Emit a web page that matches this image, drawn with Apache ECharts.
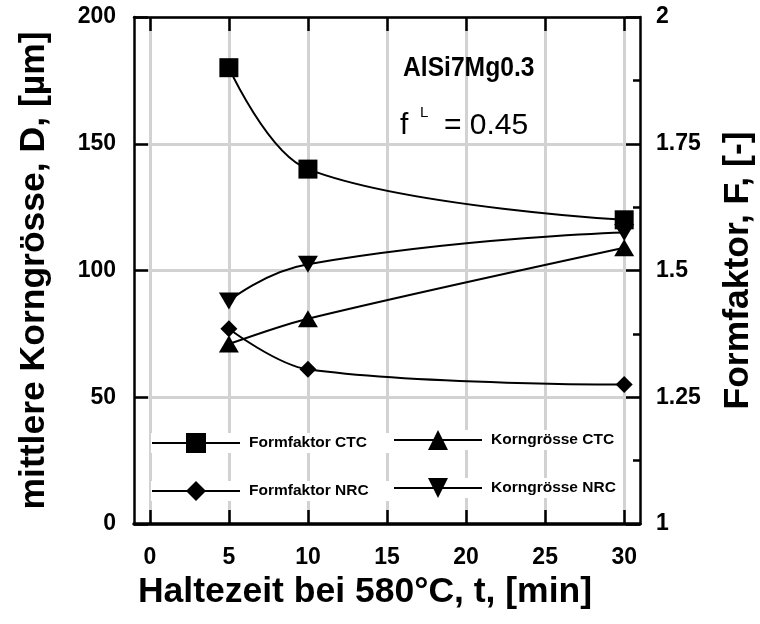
<!DOCTYPE html>
<html>
<head>
<meta charset="utf-8">
<script src="https://cdn.jsdelivr.net/npm/echarts@6/dist/echarts.min.js"></script>
<style>
  html, body { margin: 0; padding: 0; background: #fff; }
  #chart { width: 760px; height: 624px; }
</style>
</head>
<body>
<div id="chart"></div>
<script>
// Haltezeit (min) and measured values
const haltezeit = [5, 10, 30];
const formfaktorCTC = [1.9, 1.7, 1.6];
const formfaktorNRC = [1.385, 1.305, 1.275];
const korngroesseCTC = [71, 81, 109];
const korngroesseNRC = [88, 102.5, 115];

// axis ticks
const zeitTicks = [0, 5, 10, 15, 20, 25, 30];
const dTicks = [0, 50, 100, 150, 200];
const fTicks = [1, 1.25, 1.5, 1.75, 2];

const FONT = '"Liberation Sans", Arial, Helvetica, sans-serif';
const GRID = { left: 134, right: 120, top: 17, bottom: 100, containLabel: false, outerBoundsMode: 'none' };
const downTriangle = 'path://M0,0L20,0L10,17Z';

function pairs(values) {
  return haltezeit.map((t, i) => [t, values[i]]);
}

const axisLineStyle = { color: '#000', width: 2.5 };
const tickStyle = { color: '#000', width: 2.5 };
const gridLineStyle = { color: '#d2d2d2', width: 3 };
const nameStyle = { fontFamily: FONT, fontWeight: 'bold', fontSize: 35.5, color: '#000' };
const tickLabelStyle = { fontFamily: FONT, fontWeight: 'bold', fontSize: 23, color: '#000' };

function lineSeries(name, values, yAxisIndex, symbol, symbolSize, smooth) {
  return {
    name: name,
    type: 'line',
    xAxisIndex: 0,
    yAxisIndex: yAxisIndex,
    data: pairs(values),
    smooth: smooth,
    symbol: symbol,
    symbolSize: symbolSize,
    showAllSymbol: true,
    lineStyle: { color: '#000', width: 2 },
    itemStyle: { color: '#000', borderWidth: 0 },
    emphasis: { disabled: true },
    animation: false,
    z: 3
  };
}

function legendRow(names, left, top, padRight) {
  return {
    data: names,
    left: left,
    top: top,
    orient: 'horizontal',
    itemWidth: 88,
    itemHeight: 25,
    itemGap: 0,
    padding: [0, padRight, 0, 0],
    backgroundColor: '#fff',
    selectedMode: false,
    textStyle: {
      fontFamily: FONT,
      fontWeight: 'bold',
      fontSize: 15.5,
      color: '#000',
      padding: [0, 0, 0, 4]
    }
  };
}

const chart = echarts.init(document.getElementById('chart'), null, { renderer: 'canvas' });

chart.setOption({
  backgroundColor: '#fff',
  animation: false,
  grid: GRID,
  xAxis: [
    {
      type: 'value',
      position: 'bottom',
      min: -1,
      max: 31,
      name: 'Haltezeit bei 580°C, t, [min]',
      nameLocation: 'middle',
      nameGap: 42,
      nameTextStyle: Object.assign({ padding: [0, 44, 0, 0] }, nameStyle),
      axisLine: { show: true, onZero: false, lineStyle: { color: '#000', width: 3.5 } },
      axisTick: { show: true, inside: true, length: 14, customValues: zeitTicks, lineStyle: tickStyle },
      axisLabel: Object.assign({ customValues: zeitTicks, margin: 22 }, tickLabelStyle),
      splitLine: { show: true, lineStyle: gridLineStyle }
    },
    {
      type: 'value',
      position: 'top',
      min: -1,
      max: 31,
      axisLine: { show: true, onZero: false, lineStyle: axisLineStyle },
      axisTick: { show: true, inside: true, length: 14, customValues: zeitTicks, lineStyle: tickStyle },
      axisLabel: { show: false },
      splitLine: { show: false }
    }
  ],
  yAxis: [
    {
      type: 'value',
      position: 'left',
      min: 0,
      max: 200,
      interval: 50,
      name: 'mittlere Korngrösse, D, [µm]',
      nameLocation: 'middle',
      nameGap: 82,
      nameTextStyle: nameStyle,
      axisLine: { show: true, onZero: false, lineStyle: axisLineStyle },
      axisTick: { show: true, inside: true, length: 14, lineStyle: tickStyle },
      axisLabel: Object.assign({
        margin: 18,
        formatter: v => (dTicks.includes(v) ? String(v) : '')
      }, tickLabelStyle),
      splitLine: { show: true, lineStyle: gridLineStyle }
    },
    {
      type: 'value',
      position: 'right',
      min: 1,
      max: 2,
      interval: 0.25,
      name: 'Formfaktor, F, [-]',
      nameLocation: 'middle',
      nameGap: 80,
      nameTextStyle: nameStyle,
      axisLine: { show: true, onZero: false, lineStyle: axisLineStyle },
      axisTick: { show: true, inside: true, length: 14, lineStyle: tickStyle },
      minorTick: { show: true, splitNumber: 2, length: 7, lineStyle: tickStyle },
      axisLabel: Object.assign({
        margin: 16,
        formatter: v => (fTicks.includes(v) ? String(v) : '')
      }, tickLabelStyle),
      splitLine: { show: false }
    }
  ],
  legend: [
    legendRow(['Formfaktor CTC'], 151, 433, 26),
    legendRow(['Formfaktor NRC'], 151, 481, 26),
    legendRow(['Korngrösse CTC'], 393, 430, 4),
    legendRow(['Korngrösse NRC'], 393, 478, 4)
  ],
  graphic: [
    {
      type: 'text', x: 403, y: 68, z: 10, scaleX: 0.88,
      style: { text: 'AlSi7Mg0.3', font: 'bold 28px ' + FONT, fill: '#000', verticalAlign: 'middle' }
    },
    {
      type: 'text', x: 400, y: 126, z: 10,
      style: { text: 'f', font: '30px ' + FONT, fill: '#000', verticalAlign: 'middle' }
    },
    {
      type: 'text', x: 420, y: 113, z: 10,
      style: { text: 'L', font: '15px ' + FONT, fill: '#000', verticalAlign: 'middle' }
    },
    {
      type: 'text', x: 444, y: 126, z: 10,
      style: { text: '= 0.45', font: '30px ' + FONT, fill: '#000', verticalAlign: 'middle' }
    }
  ],
  series: [
    lineSeries('Formfaktor CTC', formfaktorCTC, 1, 'rect', 19, 0.35),
    lineSeries('Formfaktor NRC', formfaktorNRC, 1, 'diamond', [17, 17], 0.35),
    lineSeries('Korngrösse CTC', korngroesseCTC, 0, 'triangle', [20, 17], 0.3),
    lineSeries('Korngrösse NRC', korngroesseNRC, 0, downTriangle, [20, 17], 0.5)
  ]
});
</script>
</body>
</html>
